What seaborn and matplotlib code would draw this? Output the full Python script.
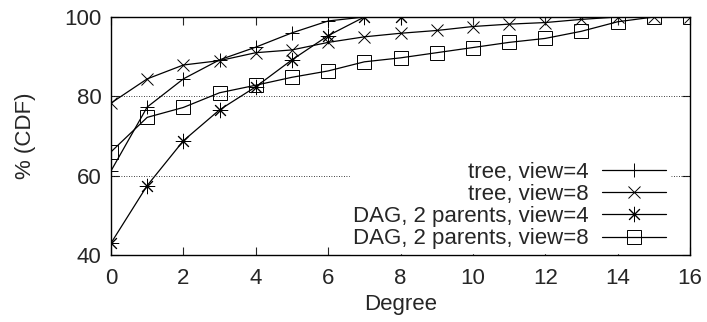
import matplotlib
matplotlib.use("Agg")
import matplotlib.pyplot as plt
import seaborn as sns
import pandas as pd

# Data
tree_v4_deg = [0, 1, 2, 3, 4, 5, 6, 7, 8]
tree_v4_cdf = [61.2, 77.3, 84.4, 89.2, 92.4, 96.0, 99.0, 100, 100]

tree_v8_deg = list(range(0, 17))
tree_v8_cdf = [78.3, 84.4, 87.9, 89.0, 91.0, 91.7, 93.6, 95.0, 95.9, 96.6,
               97.6, 98.2, 98.6, 99.4, 100, 100, 100]

dag_v4_deg = [0, 1, 2, 3, 4, 5, 6, 7, 8]
dag_v4_cdf = [43.0, 57.5, 68.8, 76.6, 82.4, 89.2, 95.3, 100, 100]

dag_v8_deg = list(range(0, 17))
dag_v8_cdf = [66.0, 74.7, 77.2, 80.9, 82.8, 84.8, 86.4, 88.7, 89.7, 91.0,
              92.3, 93.6, 94.6, 96.4, 98.8, 100, 100]

labels = ["tree, view=4", "tree, view=8",
          "DAG, 2 parents, view=4", "DAG, 2 parents, view=8"]

sns.set_style("ticks")
plt.rcParams["font.family"] = ["Liberation Sans", "DejaVu Sans"]

fig = plt.figure(figsize=(7.07, 3.22), dpi=100)
ax = fig.add_axes([111 / 707, 1 - 255 / 322, 579 / 707, 238 / 322])

series = [
    (tree_v4_deg, tree_v4_cdf, "+", 10),
    (tree_v8_deg, tree_v8_cdf, "x", 9),
    (dag_v4_deg, dag_v4_cdf, (8, 2, 0), 11),
    (dag_v8_deg, dag_v8_cdf, "s", 10),
]
for (x, y, m, ms), lab in zip(series, labels):
    df = pd.DataFrame({"Degree": x, "CDF": y})
    sns.lineplot(data=df, x="Degree", y="CDF", ax=ax, color="black",
                 marker=m, markersize=ms, markerfacecolor="none",
                 markeredgecolor="black", markeredgewidth=0.7,
                 linewidth=0.9, label=lab, zorder=3)

ax.set_xlim(0, 16)
ax.set_ylim(40, 100)
ax.set_xticks(range(0, 17, 2))
ax.set_yticks([40, 60, 80, 100])
for v in [60, 80]:
    ax.axhline(v, color="black", linestyle=(0, (1, 2)), linewidth=0.6, zorder=1)

ax.tick_params(direction="in", length=6, width=0.8, labelsize=16,
               top=True, right=True)
ax.tick_params(axis="x", pad=9)
ax.tick_params(axis="y", pad=7)
for s in ax.spines.values():
    s.set_linewidth(1.0)
    s.set_color("black")

ax.set_xlabel("Degree", fontsize=16, labelpad=4)
ax.set_ylabel("% (CDF)", fontsize=16, labelpad=20)

leg = ax.legend(loc="lower right", markerfirst=False, fontsize=16,
                frameon=True, fancybox=False, framealpha=1.0,
                edgecolor="white", handlelength=2.9, labelspacing=0.05,
                borderaxespad=0.0, handletextpad=0.6, borderpad=0.15,
                bbox_to_anchor=(0.965, 0.01))
leg.set_zorder(5)

fig.savefig("out.png", dpi=100)
